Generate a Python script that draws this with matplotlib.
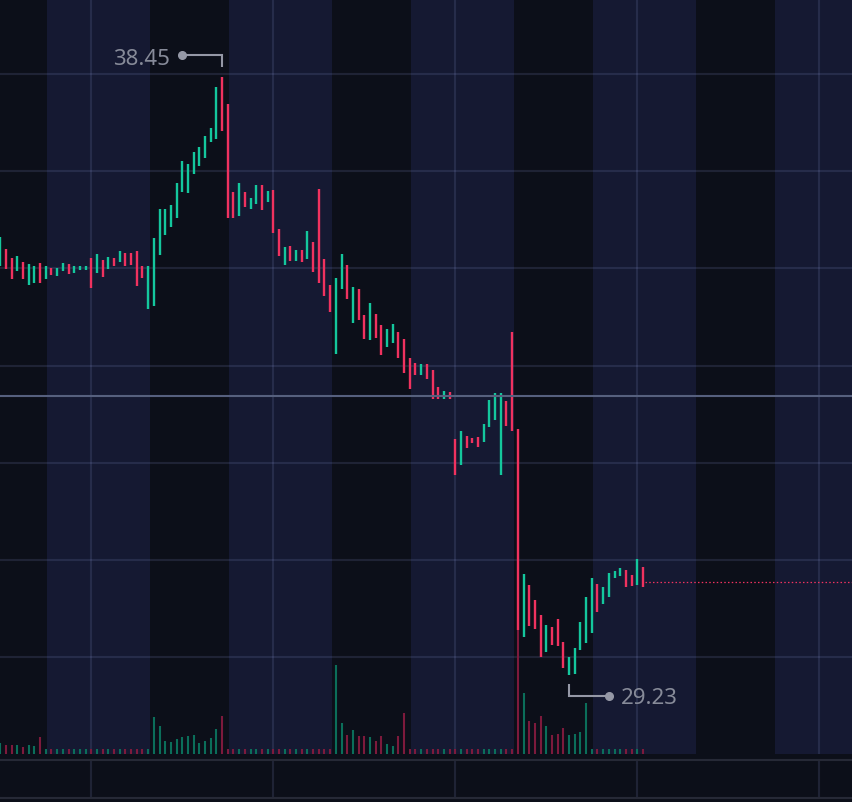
import matplotlib
matplotlib.use("Agg")
import matplotlib.pyplot as plt
from matplotlib.lines import Line2D

# ---------------- data ----------------
highs = [35.98, 35.80, 35.66, 35.69, 35.60, 35.57, 35.54, 35.58, 35.53, 35.51,
         35.51, 35.58, 35.57, 35.53, 35.54, 35.54, 35.66, 35.72, 35.63, 35.67,
         35.66, 35.76, 35.73, 35.73, 35.76, 35.53, 35.53, 35.97, 36.41, 36.41,
         36.48, 36.81, 37.15, 37.11, 37.29, 37.37, 37.54, 37.67, 38.30, 38.45,
         38.04, 36.68, 36.81, 36.67, 36.58, 36.78, 36.78, 36.69, 36.71, 36.10,
         35.83, 35.84, 35.79, 35.79, 36.07, 35.90, 36.72, 35.65, 35.25, 35.35,
         35.72, 35.55, 35.21, 35.18, 34.78, 34.96, 34.80, 34.62, 34.56, 34.64,
         34.52, 34.41, 34.12, 34.04, 34.03, 34.03, 33.93, 33.67, 33.61, 33.59,
         32.87, 32.99, 32.92, 32.89, 32.90, 33.10, 33.47, 33.58, 33.58, 33.45,
         34.52, 33.03, 30.78, 30.62, 30.38, 30.16, 30.00, 29.97, 30.09, 29.74,
         29.51, 29.64, 30.04, 30.43, 30.72, 30.64, 30.58, 30.80, 30.83, 30.88,
         30.85, 30.77, 31.02, 30.90]

lows = [35.54, 35.49, 35.34, 35.46, 35.34, 35.24, 35.27, 35.28, 35.33, 35.39,
        35.38, 35.46, 35.42, 35.43, 35.47, 35.48, 35.20, 35.43, 35.37, 35.49,
        35.53, 35.60, 35.53, 35.55, 35.23, 35.35, 34.88, 34.92, 35.71, 36.01,
        36.14, 36.28, 36.67, 36.66, 36.95, 37.07, 37.20, 37.45, 37.50, 37.62,
        36.27, 36.28, 36.30, 36.45, 36.41, 36.49, 36.40, 36.53, 36.05, 35.69,
        35.55, 35.61, 35.61, 35.59, 35.65, 35.44, 35.28, 35.07, 34.82, 34.18,
        35.18, 35.02, 34.65, 34.71, 34.41, 34.40, 34.43, 34.17, 34.29, 34.35,
        34.11, 33.89, 33.64, 33.86, 33.86, 33.80, 33.49, 33.49, 33.48, 33.49,
        32.31, 32.47, 32.73, 32.80, 32.74, 32.82, 33.06, 33.16, 32.31, 33.07,
        32.99, 29.92, 29.81, 29.99, 29.94, 29.50, 29.58, 29.70, 29.67, 29.34,
        29.23, 29.25, 29.62, 29.73, 29.87, 30.20, 30.32, 30.43, 30.72, 30.76,
        30.59, 30.60, 30.61, 30.59]

# u = up bar, d = down bar
direction = (
    "u d d u d u u d u d "
    "u u d u u u d u d u "
    "d u d d d d u u u u "
    "u u u u u u u u u d "
    "d d u d u u d u d d "
    "u d u d u d d d d u "
    "u d u d d u d d u u "
    "d d d d u d d d u d "
    "d u d d d u u u u d "
    "d d u d d d u d d d "
    "u u u u u d u u u u "
    "d d u d"
).split()

volume = [55, 47, 43, 43, 33, 43, 40, 85, 25, 25,
          25, 25, 25, 25, 25, 25, 25, 25, 25, 25,
          25, 25, 25, 25, 25, 25, 25, 187, 140, 67,
          60, 77, 85, 90, 95, 53, 63, 80, 125, 190,
          25, 25, 25, 25, 25, 25, 25, 25, 25, 25,
          25, 25, 25, 25, 25, 25, 25, 25, 25, 443,
          157, 95, 118, 88, 88, 83, 65, 88, 48, 42,
          92, 205, 25, 25, 25, 25, 25, 25, 25, 25,
          25, 25, 25, 25, 25, 25, 25, 25, 25, 25,
          25, 670, 305, 163, 155, 190, 140, 93, 100, 128,
          95, 98, 110, 257, 25, 25, 25, 25, 25, 25,
          25, 25, 25, 25]

day_high = 38.45
day_high_bar = 39
day_low = 29.23
day_low_bar = 100
last_price = 30.66
prev_close = 33.53
grid_prices = [29.5, 31.0, 32.5, 34.0, 35.5, 37.0, 38.5]
grid_bars = [16, 48, 80, 112, 144]
ext_session_start = [8.21, 40.21, 72.21, 104.21, 136.21]
ext_session_end = [26.27, 58.27, 90.27, 122.27, 154.27]

# ---------------- style ----------------
BG = "#0c0f19"
SESSION = "#151932"
GRID_RGB = (0.55, 0.6, 0.85)
GRID_ALPHA = 0.15
UP = "#14c79d"
DOWN = "#f0325f"
VUP = "#0b6e5a"
VDOWN = "#7d1a3c"
LABEL = "#878b99"
BRACKET = "#9598a6"

W, H = 852, 802
fig = plt.figure(figsize=(W / 100, H / 100), dpi=100)
fig.patch.set_facecolor(BG)

XMIN, XMAX = -0.053, 149.75
YMIN, YMAX = 28.012, 39.637
VOL_TOP = 3770

rect = [0, 48 / H, 1, 754 / H]
ax_bg = fig.add_axes(rect)
ax_vol = fig.add_axes(rect)
ax = fig.add_axes(rect)

for a in (ax_bg, ax_vol, ax):
    a.set_xlim(XMIN, XMAX)
    for s in a.spines.values():
        s.set_visible(False)
    a.tick_params(length=0, labelbottom=False, labelleft=False)
ax_vol.patch.set_visible(False)
ax.patch.set_visible(False)
ax_vol.set_xticks([]); ax_vol.set_yticks([])
ax.set_xticks([]); ax.set_yticks([])

ax_bg.set_facecolor(BG)
ax_bg.set_ylim(YMIN, YMAX)
ax.set_ylim(YMIN, YMAX)
ax_vol.set_ylim(0, VOL_TOP)

for s, e in zip(ext_session_start, ext_session_end):
    ax_bg.axvspan(s, e, color=SESSION, lw=0, zorder=0)
ax_bg.set_axisbelow(False)
ax_bg.set_xticks(grid_bars)
ax_bg.set_yticks(grid_prices)
ax_bg.grid(True, color=GRID_RGB, alpha=GRID_ALPHA, lw=1.5)

idx = list(range(len(highs)))
pcol = [UP if d == "u" else DOWN for d in direction]
vcol = [VUP if d == "u" else VDOWN for d in direction]

ax_vol.vlines(idx, [0] * len(volume), volume, colors=vcol, lw=1.5)
ax.vlines(idx, lows, highs, colors=pcol, lw=1.7, zorder=3)

ax.axhline(prev_close, color="#56607e", lw=1.5, zorder=4)
ax.hlines(last_price, idx[-1] + 0.3, XMAX, colors=DOWN, lw=0.9,
          linestyles=(0, (1.2, 1.8)), zorder=4)

# high / low markers
def bracket(xd, yd, pts, dot):
    x0, y0 = ax.transData.transform((xd, yd))
    xs = [x0 + p[0] for p in pts]
    ys = [y0 + p[1] for p in pts]
    fig.add_artist(Line2D(xs, ys, transform=None, color=BRACKET, lw=1.5,
                          solid_capstyle="butt", solid_joinstyle="miter"))
    fig.add_artist(Line2D([x0 + dot[0]], [y0 + dot[1]], transform=None,
                          marker="o", ms=5.5, color=BRACKET, lw=0))

bracket(day_high_bar, day_high, [(0, 10), (0, 21.5), (-40, 21.5)], (-40, 21.5))
ax.annotate(f"{day_high:.2f}", xy=(day_high_bar, day_high), xytext=(-52, 12),
            textcoords="offset pixels", ha="right", va="baseline",
            color=LABEL, fontsize=16, family="Noto Sans")
bracket(day_low_bar, day_low, [(0, -9), (0, -20.5), (39.5, -20.5)], (39.5, -20.5))
ax.annotate(f"{day_low:.2f}", xy=(day_low_bar, day_low), xytext=(51.5, -29),
            textcoords="offset pixels", ha="left", va="baseline",
            color=LABEL, fontsize=16, family="Noto Sans")

# bottom (empty) pane
ax_bot = fig.add_axes([0, 4.5 / H, 1, 38 / H])
ax_bot.set_facecolor(BG)
ax_bot.set_xlim(XMIN, XMAX)
ax_bot.set_ylim(0, 1)
for k in ("left", "right"):
    ax_bot.spines[k].set_visible(False)
for k in ("top", "bottom"):
    ax_bot.spines[k].set_color("#262936")
    ax_bot.spines[k].set_linewidth(1.5)
ax_bot.set_xticks(grid_bars)
ax_bot.set_yticks([])
ax_bot.tick_params(length=0, labelbottom=False)
ax_bot.grid(True, axis="x", color=GRID_RGB, alpha=GRID_ALPHA, lw=1.5)

fig.savefig("out.png", dpi=100, facecolor=BG)
